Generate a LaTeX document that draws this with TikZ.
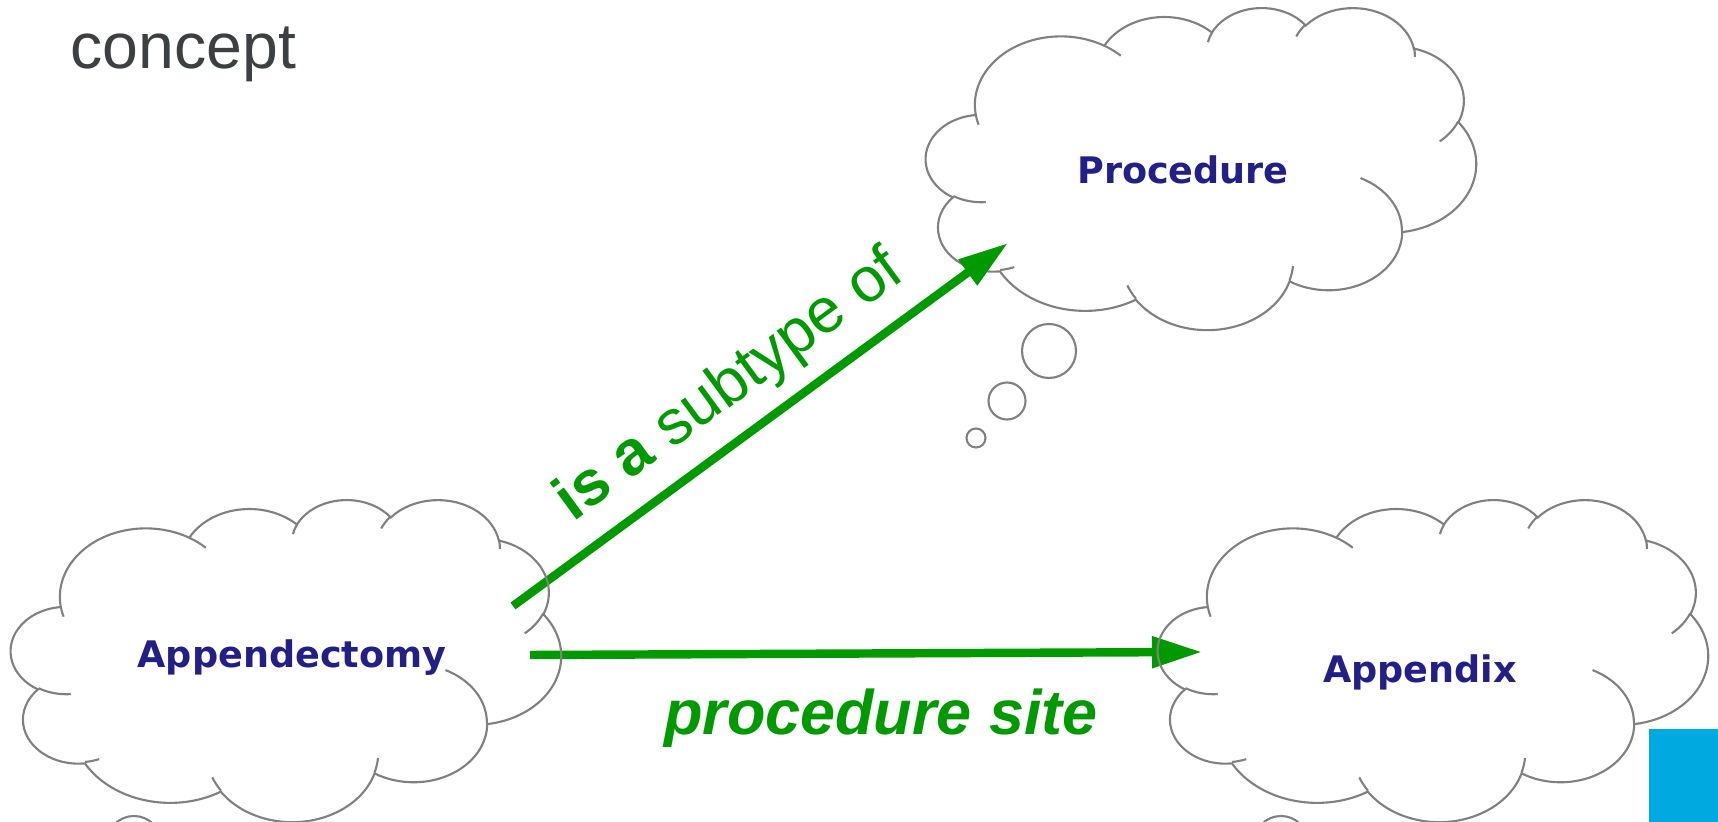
\documentclass[tikz,border=0pt]{standalone}
\usepackage{fontspec}
\setmainfont{Liberation Sans}
\newfontfamily\termfont{DejaVu Sans}
\usetikzlibrary{arrows.meta,calc}
\definecolor{cloudgray}{RGB}{128,128,128}
\definecolor{termblue}{RGB}{34,31,134}
\definecolor{relgreen}{RGB}{0,153,0}
\definecolor{slidegray}{RGB}{60,64,67}
\definecolor{logoblue}{RGB}{0,169,224}
\tikzset{
 cloudline/.style={draw=cloudgray, line width=0.6pt},
 term/.style={font=\termfont\bfseries\fontsize{10.4}{12}\selectfont, text=termblue, inner sep=0pt, anchor=base},
 relarrow/.style={draw=relgreen, line width=2.4pt, -{Triangle[length=0.5cm, width=0.3cm]}},
 rellabel/.style={text=relgreen, font=\fontsize{17.9}{20}\selectfont, inner sep=0pt, anchor=base}
}
% one puff of the cloud: x radius, y radius, start and sweep angle
\newcommand{\cloudarc}[4]{arc[x radius=#1, y radius=#2, start angle={atan2(#1*sin(#3),#2*cos(#3))}, delta angle={mod(atan2(#1*sin(#3+#4),#2*cos(#3+#4))-atan2(#1*sin(#3),#2*cos(#3))+720,360)}]}
\newcommand{\cloudpath}{(3.9,14.37)
 \cloudarc{6.753}{9.19}{-190.4875}{123.7805}
 \cloudarc{5.333}{7.267}{-144.1024}{89.9452}
 \cloudarc{4.365}{5.945}{-145.8079}{99.723}
 \cloudarc{4.857}{6.595}{-130.9861}{117.2417}
 \cloudarc{5.333}{7.273}{-78.7089}{109.0269}
 \cloudarc{6.775}{9.22}{-46.2673}{130.269}
 \cloudarc{5.785}{7.867}{0.625}{114.0333}
 \cloudarc{6.752}{9.215}{22.4516}{115.1726}
 \cloudarc{7.72}{10.543}{66.2426}{75.711}
 \cloudarc{4.36}{5.918}{-274.9421}{146.7356}
 \cloudarc{4.345}{5.945}{-246.8285}{152.5189} -- cycle
 (4.693,26.177) \cloudarc{4.345}{5.945}{86.742}{26.4295}
 (6.928,34.899) \cloudarc{4.36}{5.918}{73.6105}{11.4477}
 (16.478,39.09) \cloudarc{6.752}{9.215}{137.6242}{14.0674}
 (28.827,34.751) \cloudarc{6.752}{9.215}{6.4533}{15.9984}
 (34.129,22.954) \cloudarc{5.785}{7.867}{-70.2924}{70.9174}
 (41.798,15.354) \cloudarc{5.333}{7.273}{30.318}{27.7515}
 (38.324,5.426) \cloudarc{4.857}{6.595}{-13.7443}{14.8589}
 (29.078,3.952) \cloudarc{4.857}{6.595}{-149.1815}{18.1954}
 (22.141,4.72) \cloudarc{4.365}{5.945}{-163.4943}{17.6864}
 (14,5.192) \cloudarc{6.753}{9.19}{-66.707}{12.3194}
 (4.127,15.789) \cloudarc{6.753}{9.19}{157.6544}{11.8519}}
% cloud with its three bubbles, top left corner at #1,#2
\newcommand{\thoughtcloud}[2]{
 \begin{scope}[shift={(#1,#2)}, xscale=550/43.2, yscale=322/43.2]
  \draw[cloudline] \cloudpath;
 \end{scope}
 \draw[cloudline] ($ (#1,#2) + (123,344) $) circle[radius=27];
 \draw[cloudline] ($ (#1,#2) + (81,394) $) circle[radius=18.5];
 \draw[cloudline] ($ (#1,#2) + (50,431) $) circle[radius=9.5];
}
\begin{document}
\begin{tikzpicture}[x=0.01cm, y=-0.01cm]
 \useasboundingbox (0,0) rectangle (1718,822);
 \clip (0,0) rectangle (1718,822);
%
 \node[anchor=base west, inner sep=0pt, text=slidegray, font=\fontsize{18.3}{22}\selectfont] (title) at (70,69) {concept};
%
 \thoughtcloud{926}{7}
 \node[term] (proc) at (1183,184) {Procedure};
%
 \coordinate (appy-ne) at (513,606);
 \coordinate (proc-sw) at (1008,243);
 \coordinate (appy-e) at (530,655);
 \coordinate (appx-w) at (1202,652);
 \draw[relarrow] (appy-ne) -- (proc-sw);
 \draw[relarrow] (appy-e) -- (appx-w);
 \node[rellabel, rotate=36.3] (subtype) at (740,400) {\textbf{is a} subtype of};
 \node[rellabel, font=\bfseries\itshape\fontsize{17.9}{20}\selectfont] (site) at (881,735) {procedure site};
%
 \thoughtcloud{11}{499}
 \thoughtcloud{1158}{499}
 \node[term] (appy) at (292,668) {Appendectomy};
 \node[term] (appx) at (1420,683) {Appendix};
%
 \fill[logoblue] (1649,729) rectangle (1718,822);
\end{tikzpicture}
\end{document}
